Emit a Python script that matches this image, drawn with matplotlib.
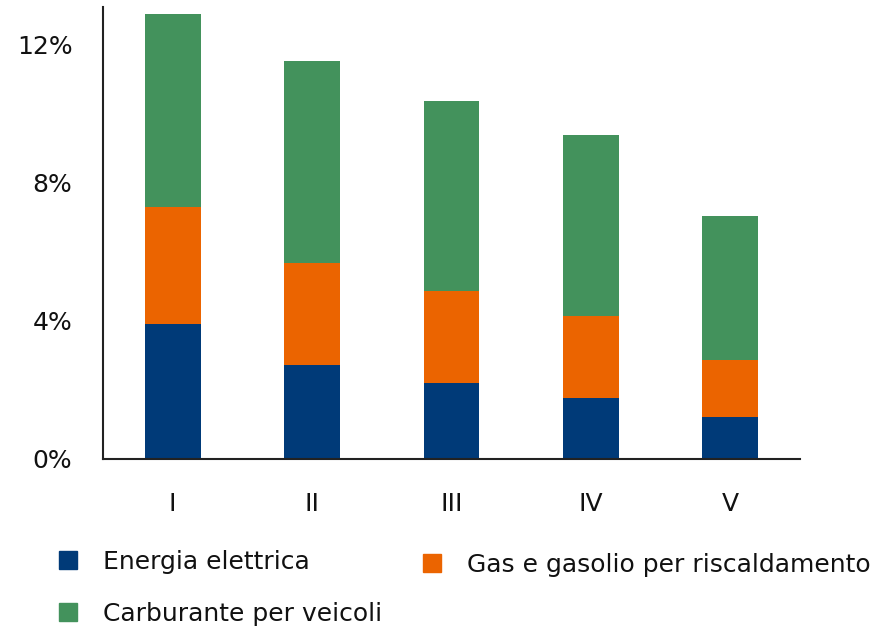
import matplotlib
matplotlib.use("Agg")
import matplotlib.pyplot as plt
import numpy as np
from matplotlib.patches import Patch

categories = ["I", "II", "III", "IV", "V"]
energia = [3.91, 2.72, 2.20, 1.77, 1.22]
gas = [3.39, 2.96, 2.67, 2.37, 1.65]
carburante = [5.60, 5.86, 5.51, 5.25, 4.17]
series_names = ["Energia elettrica", "Gas e gasolio per riscaldamento", "Carburante per veicoli"]
colors = ["#003a78", "#eb6400", "#43925c"]
yticks = [0, 4, 8, 12]
ytick_labels = ["0%", "4%", "8%", "12%"]

plt.rcParams['font.family'] = ['DejaVu Sans']

fig = plt.figure(figsize=(8.91, 6.30), dpi=100)
ax = fig.add_axes([103/891, 1 - 459/630, 697/891, 452/630])

x = np.arange(len(categories))
b1 = np.array(energia)
b2 = np.array(gas)
b3 = np.array(carburante)
w = 0.4
ax.bar(x, b1, w, color=colors[0], label=series_names[0])
ax.bar(x, b2, w, bottom=b1, color=colors[1], label=series_names[1])
ax.bar(x, b3, w, bottom=b1 + b2, color=colors[2], label=series_names[2])

ax.set_xlim(-0.5, len(categories) - 0.5)
ax.set_ylim(0, 13.1)
ax.set_yticks(yticks)
ax.set_yticklabels(ytick_labels, fontsize=18, color="#111111")
ax.set_xticks(x)
ax.set_xticklabels(categories, fontsize=18, color="#111111")
ax.tick_params(axis='both', length=0)
ax.tick_params(axis='x', pad=24)
ax.tick_params(axis='y', pad=22)
for s in ["top", "right"]:
    ax.spines[s].set_visible(False)
for s in ["left", "bottom"]:
    ax.spines[s].set_linewidth(1.5)
    ax.spines[s].set_color("#222222")

# legend entries: (series index, handle-left x px, center y px)
legend_pos = [(0, 59, 562), (1, 423, 565), (2, 59, 614)]
for idx, px, py in legend_pos:
    fig.legend([Patch(color=colors[idx])], [series_names[idx]],
               loc="center left", bbox_to_anchor=(px/891, 1 - py/630),
               frameon=False, fontsize=18, handlelength=0.7, handleheight=0.75,
               handletextpad=1.05, borderpad=0, borderaxespad=0,
               labelcolor="#111111")

fig.savefig("out.png", dpi=100)
